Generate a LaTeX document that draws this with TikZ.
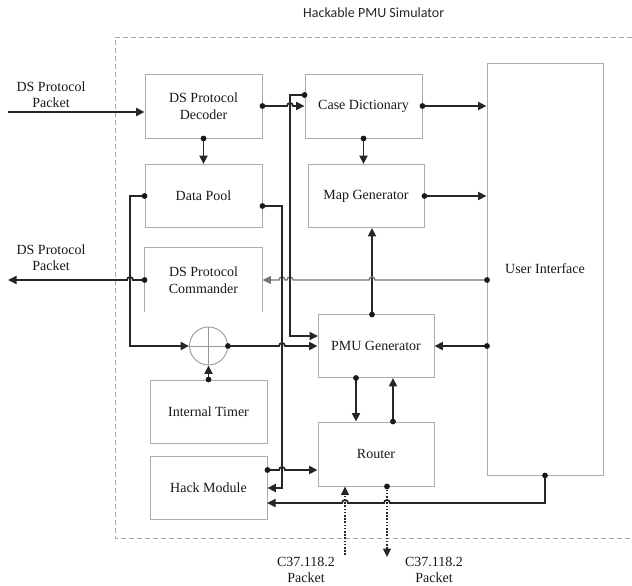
\documentclass[tikz,border=0pt]{standalone}
\usepackage{fontspec}
\setmainfont{Liberation Serif}
\newfontfamily\titlefont{Carlito}
\usetikzlibrary{arrows.meta,calc}
\begin{document}
\begin{tikzpicture}[x=1pt,y=-1pt,
  box/.style={draw=black!32,line width=0.9pt,minimum width=117pt,minimum height=64pt,align=center,inner sep=0pt,font=\fontsize{14}{16.5}\selectfont,text=black!90},
  boxline/.style={draw=black!32,line width=0.9pt},
  conn/.style={draw=black!85,line width=1.8pt},
  thinconn/.style={draw=black!55,line width=1.3pt},
  dotconn/.style={draw=black!85,line width=1.1pt,dash pattern=on 1.6pt off 1.6pt},
  arr/.style={-{Triangle[length=8.5pt,width=8pt]}},
  lbl/.style={align=center,font=\fontsize{14}{16}\selectfont,inner sep=0pt,text=black!90},
  dotmark/.style={fill=black!90}
]
\useasboundingbox (0,0) rectangle (632,586);

% title and boundary
\node[anchor=west,font=\titlefont\fontsize{14}{16}\selectfont,inner sep=0pt,text=black!85] (title) at (303,13) {Hackable PMU Simulator};
\draw[black!35,line width=0.9pt,dash pattern=on 5pt off 3pt] (640,37) -- (115,37) -- (115,538) -- (640,538);

% blocks
\node[box] (dec) at (203.5,106) {DS Protocol\\Decoder};
\node[box,minimum height=63pt] (pool) at (203.5,196) {Data Pool};
\node[box,draw=none] (cmd) at (203.5,280) {DS Protocol\\Commander};
\draw[boxline] (cmd.south west) -- (cmd.north west) -- (cmd.north east) -- (cmd.south east);
\node[box,minimum height=63pt] (timer) at (208.5,411.5) {Internal Timer};
\node[box,minimum height=63pt] (hack) at (208.5,488) {Hack Module};
\node[box] (cdict) at (363.5,106) {Case Dictionary};
\node[box,minimum width=116pt,minimum height=63pt] (mapg) at (366,196) {Map Generator};
\node[box,minimum width=116pt,minimum height=63pt] (pmu) at (376,346) {PMU Generator};
\node[box,minimum width=116pt] (router) at (376,454) {Router};
\node[box,minimum width=116pt,minimum height=412pt] (ui) at (545,269) {User Interface};
\node[circle,draw=black!40,line width=0.9pt,minimum size=38pt,inner sep=0pt] (sum) at (208.5,346) {};
\draw[black!40,line width=0.7pt] (sum.west) -- (sum.east) (sum.north) -- (sum.south);

% input packet
\coordinate (inA) at (8,112);
\draw[conn,arr] (inA) -- (dec.west |- inA);
\node[lbl] (lblA) at (51,95) {DS Protocol\\Packet};

% decoder -> case dictionary
\draw[conn,arr] (dec.east) -- (287,106) arc[start angle=180,end angle=0,radius=3pt] -- (cdict.west);
\fill[dotmark] (dec.east) circle (2.9pt);

% decoder -> data pool
\draw[conn,arr] (dec.south) -- (pool.north);
\fill[dotmark] (dec.south) circle (2.9pt);

% case dictionary -> map generator
\draw[conn,arr] (cdict.south) -- (cdict.south |- mapg.north);
\fill[dotmark] (cdict.south) circle (2.9pt);

% case dictionary -> UI, map generator -> UI
\draw[conn,arr] (cdict.east) -- (cdict.east -| ui.west);
\fill[dotmark] (cdict.east) circle (2.9pt);
\draw[conn,arr] (mapg.east) -- (mapg.east -| ui.west);
\fill[dotmark] (mapg.east) circle (2.9pt);

% PMU generator -> map generator
\coordinate (p7) at (372,314.5);
\draw[conn,arr] (p7) -- (p7 |- mapg.south);
\fill[dotmark] (p7) circle (2.9pt);

% UI -> commander
\coordinate (u8) at (487,280);
\draw[thinconn,arr] (u8) -- (375,280) arc[start angle=0,end angle=180,radius=3pt]
  -- (293,280) arc[start angle=0,end angle=180,radius=3pt]
  -- (285,280) arc[start angle=0,end angle=180,radius=3pt] -- (cmd.east);
\fill[dotmark] (u8) circle (2.9pt);

% UI -> PMU generator
\coordinate (u9) at (487,346);
\draw[conn,arr] (u9) -- (u9 -| pmu.east);
\fill[dotmark] (u9) circle (2.9pt);

% data pool -> summing junction
\draw[conn,arr] (pool.west) -- (130,196) -- (130,346) -- (sum.west);
\fill[dotmark] (pool.west) circle (2.9pt);

% commander -> output packet
\coordinate (outA) at (8,280);
\draw[conn,arr] (cmd.west) -- (133,280) arc[start angle=0,end angle=180,radius=3pt] -- (outA);
\fill[dotmark] (cmd.west) circle (2.9pt);
\node[lbl] (lblB) at (51,258) {DS Protocol\\Packet};

% summing junction -> PMU generator
\draw[conn,arr] (sum.east) -- (279,346) arc[start angle=180,end angle=0,radius=3pt] -- (pmu.west |- sum.east);
\fill[dotmark] (sum.east) circle (2.9pt);

% data pool -> hack module
\coordinate (p13) at ($(pool.east)+(0,10)$);
\draw[conn,arr] (p13) -- (282,206) -- (282,488) -- (hack.east);
\fill[dotmark] (p13) circle (2.9pt);

% case dictionary -> PMU generator
\coordinate (p14) at ($(cdict.west)+(0,-11)$);
\coordinate (q14) at (318,336);
\draw[conn,arr] (p14) -- (290,95) -- (290,336) -- (q14);
\fill[dotmark] (p14) circle (2.9pt);

% timer -> summing junction
\draw[conn,arr] (timer.north) -- (sum.south);
\fill[dotmark] (timer.north) circle (2.9pt);

% hack module -> router
\coordinate (p16) at ($(hack.east)+(0,-18)$);
\draw[conn,arr] (p16) -- (279,470) arc[start angle=180,end angle=0,radius=3pt] -- (p16 -| router.west);
\fill[dotmark] (p16) circle (2.9pt);

% PMU generator <-> router
\coordinate (p17) at ($(pmu.south)+(-20,0)$);
\draw[conn,arr] (p17) -- (p17 |- router.north);
\fill[dotmark] (p17) circle (2.9pt);
\coordinate (p18) at ($(router.north)+(17,0)$);
\draw[conn,arr] (p18) -- (p18 |- pmu.south);
\fill[dotmark] (p18) circle (2.9pt);

% UI -> hack module
\coordinate (q19) at (267,503);
\draw[conn,arr] (ui.south) -- (545,503) -- (390,503) arc[start angle=0,end angle=180,radius=3pt]
  -- (348,503) arc[start angle=0,end angle=180,radius=3pt] -- (q19);
\fill[dotmark] (ui.south) circle (2.9pt);

% C37.118.2 packets
\coordinate (p20) at ($(router.south)+(-31,0)$);
\coordinate (s20) at (345,555);
\draw[dotconn,arr] (s20) -- (p20);
\coordinate (p21) at ($(router.south)+(11,0)$);
\coordinate (e21) at (387,557);
\draw[dotconn,arr] (p21) -- (e21);
\fill[dotmark] (p21) circle (2.9pt);
\node[lbl] (lblC) at (306,570) {C37.118.2\\Packet};
\node[lbl] (lblD) at (434,570) {C37.118.2\\Packet};
\end{tikzpicture}
\end{document}
